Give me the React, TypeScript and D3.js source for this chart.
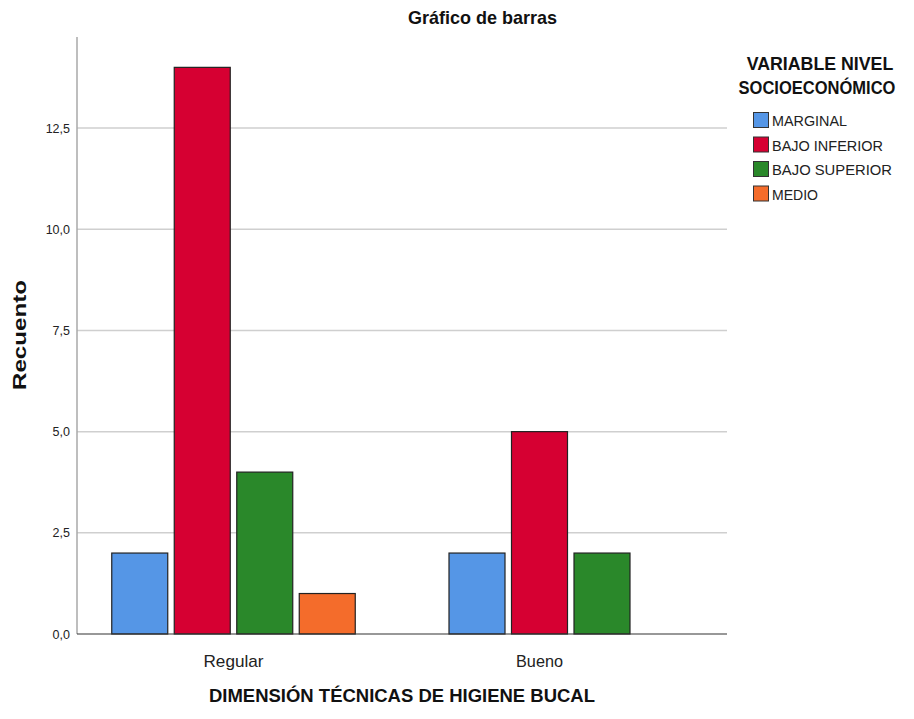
import React from "react";
import * as d3 from "d3";

const categories = ["Regular", "Bueno"];
const categoryLabelWidths = [60, 47];
const seriesNames = ["MARGINAL", "BAJO INFERIOR", "BAJO SUPERIOR", "MEDIO"];
const seriesLabelWidths = [75, 111, 120, 46];
const seriesColors = ["#5596E6", "#D60032", "#2A882A", "#F46C2B"];
const valuesRegular = [2, 14, 4, 1];
const valuesBueno = [2, 5, 2, 0];
const yTicks = [0, 2.5, 5, 7.5, 10, 12.5];

const W = 914;
const H = 719;
const FONT = "'Liberation Sans', Arial, sans-serif";

export default function App() {
  const data = [valuesRegular, valuesBueno];
  const x = d3.scaleBand<string>().domain(categories).range([80.5, 692.5]);
  const y = d3.scaleLinear().domain([0, 14.75]).range([634, 37]);
  const barW = 56;
  const step = 62.5;
  const fmt = (v: number) => d3.format(".1f")(v).replace(".", ",");

  return (
    <svg
      width={W}
      height={H}
      style={{ position: "absolute", left: 0, top: 0, background: "#fff" }}
      fontFamily={FONT}
    >
      <rect x={0} y={0} width={W} height={H} fill="#fff" />
      {yTicks.filter((t) => t > 0).map((t) => (
        <line key={t} x1={77} x2={727} y1={y(t)} y2={y(t)} stroke="#cfcfcf" strokeWidth={1.5} />
      ))}
      <line x1={77} x2={77} y1={y(14.75)} y2={y(0)} stroke="#a8a8a8" strokeWidth={1.5} />
      {yTicks.map((t) => (
        <text key={t} x={70} y={y(t) + 4.5} textAnchor="end" fontSize={12.5} fill="#222">
          {fmt(t)}
        </text>
      ))}
      {categories.map((c, ci) => {
        const vals = data[ci];
        const present = vals.map((v, i) => ({ v, i })).filter((d) => d.v > 0);
        const center = (x(c) as number) + x.bandwidth() / 2;
        const groupW = (present.length - 1) * step + barW;
        const start = center - groupW / 2;
        return present.map((d, k) => (
          <rect
            key={c + d.i}
            x={start + k * step}
            y={y(d.v)}
            width={barW}
            height={y(0) - y(d.v)}
            fill={seriesColors[d.i]}
            stroke="#222"
            strokeWidth={1.2}
          />
        ));
      })}
      <line x1={77} x2={727} y1={y(0)} y2={y(0)} stroke="#333" strokeWidth={1.2} />
      {categories.map((c, ci) => (
        <text
          key={c}
          x={(x(c) as number) + x.bandwidth() / 2}
          y={667}
          textAnchor="middle"
          fontSize={17}
          fill="#222"
          textLength={categoryLabelWidths[ci]}
          lengthAdjust="spacingAndGlyphs"
        >
          {c}
        </text>
      ))}
      <text x={482.5} y={24} textAnchor="middle" fontSize={19} fontWeight="bold" fill="#111"
        textLength={149} lengthAdjust="spacingAndGlyphs">
        Gráfico de barras
      </text>
      <text x={402} y={702} textAnchor="middle" fontSize={18} fontWeight="bold" fill="#111"
        textLength={386} lengthAdjust="spacingAndGlyphs">
        DIMENSIÓN TÉCNICAS DE HIGIENE BUCAL
      </text>
      <text transform="translate(26,335) rotate(-90)" textAnchor="middle" fontSize={18}
        fontWeight="bold" fill="#111" textLength={110} lengthAdjust="spacingAndGlyphs">
        Recuento
      </text>
      <text transform="translate(820,70) scale(0.935,1)" textAnchor="middle" fontSize={19}
        fontWeight="bold" fill="#111">
        VARIABLE NIVEL
      </text>
      <text transform="translate(817,94) scale(0.87,1)" textAnchor="middle" fontSize={19}
        fontWeight="bold" fill="#111">
        SOCIOECONÓMICO
      </text>
      {seriesNames.map((s, i) => (
        <g key={s} transform={`translate(753,${112 + i * 24.5})`}>
          <rect x={0.5} y={0.5} width={15} height={15} fill={seriesColors[i]} stroke="#333" strokeWidth={1} />
          <text x={19} y={14} fontSize={15.5} fill="#222"
            textLength={seriesLabelWidths[i]} lengthAdjust="spacingAndGlyphs">
            {s}
          </text>
        </g>
      ))}
    </svg>
  );
}
